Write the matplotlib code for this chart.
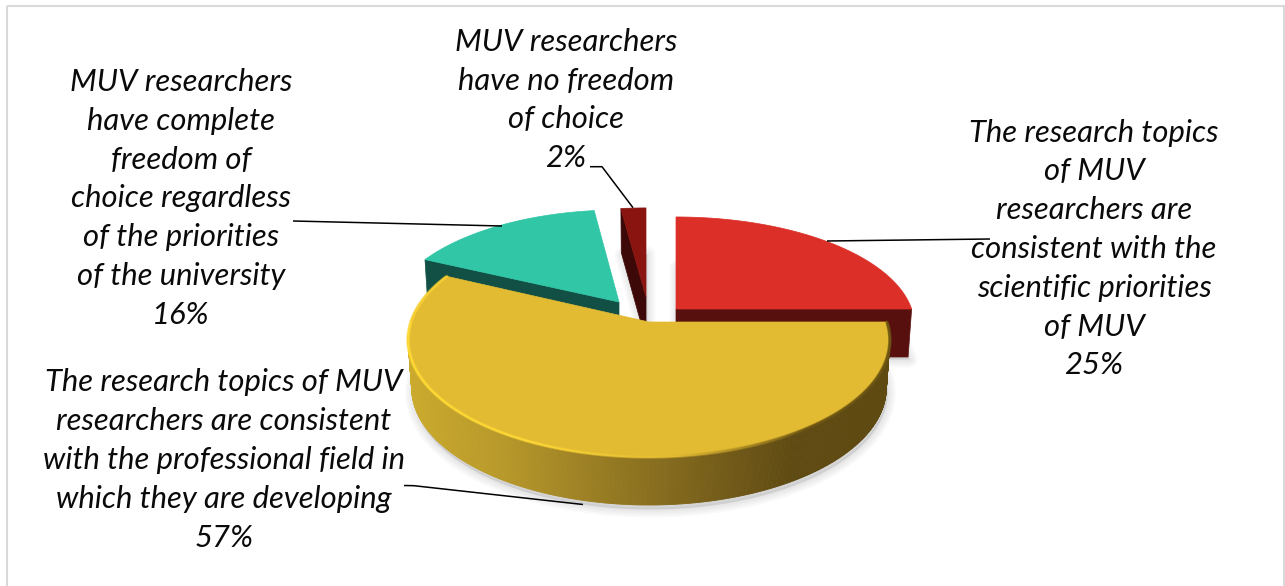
import numpy as np
import matplotlib
matplotlib.use("Agg")
import matplotlib.pyplot as plt
from matplotlib.patches import Polygon, Rectangle
from matplotlib.collections import PolyCollection, LineCollection
from matplotlib.colors import LinearSegmentedColormap, to_rgb

# ---- data (order = clockwise from 12 o'clock) ----
categories = [
    "The research topics\nof MUV\nresearchers are\nconsistent with the\nscientific priorities\nof MUV",
    "The research topics of MUV\nresearchers are consistent\nwith the professional field in\nwhich they are developing",
    "MUV researchers\nhave complete\nfreedom of\nchoice regardless\nof the priorities\nof the university",
    "MUV researchers\nhave no freedom\nof choice",
]
values = [25, 57, 16, 2]

top_colors = ["#db2f27", "#e3bb33", "#30c6a6", "#8a1510"]
side_colors = ["#58100e", "#b89a2a", "#125045", "#3c0808"]

# ---- pie geometry (screen pixels) ----
A, B, K = 238.0, 114.2, 0.154
apex = [(676, 309), (649, 322), (619, 302), (646, 297)]
sx = [0.99, 1.0, 0.96, 0.97]
sy = [0.93, 1.0, 0.93, 0.90]
depth = [48, 48, 46, 44]
bottom_shrink = 0.985

# ---- label placement ----
label_xy = [(1094, 249), (224, 460), (181, 198.5), (566, 100)]
FONT = "Lato"
FS = 22.3
LS = 1.47

fig = plt.figure(figsize=(12.85, 5.86), dpi=100, facecolor="white")
ax = fig.add_axes([0, 0, 1, 1])
ax.set_xlim(0, 1285)
ax.set_ylim(586, 0)
ax.axis("off")

# chart frame
ax.add_patch(Rectangle((7, 5.5), 1277, 600, fc="none", ec="#d9d9d9", lw=1.5, zorder=1))


def project(theta, i, bottom=False):
    x, y = np.cos(theta), np.sin(theta)
    w = 1 + K * y
    f = bottom_shrink if bottom else 1.0
    px = apex[i][0] + f * A * sx[i] * x / w
    py = apex[i][1] - B * sy[i] * y / w + (depth[i] if bottom else 0)
    return px, py


fractions = np.array(values, dtype=float) / sum(values)
edges = np.pi / 2 - 2 * np.pi * np.concatenate([[0], np.cumsum(fractions)])


def slice_outline(i, bottom=False):
    th = np.linspace(edges[i], edges[i + 1], 200)
    px, py = project(th, i, bottom)
    ax0, ay0 = apex[i][0], apex[i][1] + (depth[i] if bottom else 0)
    return np.column_stack([np.r_[ax0, px], np.r_[ay0, py]])


# soft floor shadows
for i in range(4):
    pts = slice_outline(i, True) + np.array([1.5, 4.5 if i == 1 else 2.5])
    for lw in (16, 12, 8, 4):
        ax.add_patch(Polygon(pts, closed=True, fc=(0, 0, 0, 0.022), ec=(0, 0, 0, 0.022),
                             lw=lw * 0.72, joinstyle="round", zorder=2))

z = 3
# back slices first: dark red, teal, red, then yellow in front
for i in (3, 2, 0):
    end = edges[i + 1] if i == 0 else edges[i]
    ex, ey = project(end, i)
    ebx, eby = project(end, i, True)
    ax.add_patch(Polygon([apex[i], (ex, ey), (ebx, eby), (apex[i][0], apex[i][1] + depth[i])],
                         closed=True, fc=side_colors[i], ec=side_colors[i], lw=0.5, zorder=z))
    ax.add_patch(Polygon(slice_outline(i), closed=True, fc=top_colors[i],
                         ec=top_colors[i], lw=0.5, zorder=z + 1))
    z += 2

# yellow outer wall with horizontal gradient
grad = LinearSegmentedColormap.from_list(
    "wall",
    [(0.0, "#cbaa2e"), (0.18, "#b99a2a"), (0.42, "#957922"), (0.65, "#745c19"),
     (0.80, "#5f4a12"), (1.0, "#5f4a12")],
)
i = 1
th = np.linspace(edges[1], edges[2], 500)
tx, ty = project(th, i)
bx, by = project(th, i, True)
quads = [[(tx[j], ty[j]), (tx[j + 1], ty[j + 1]), (bx[j + 1], by[j + 1]), (bx[j], by[j])]
         for j in range(len(th) - 1)]
midx = 0.5 * (tx[:-1] + tx[1:])
cols = grad(np.clip((midx - 408) / (890 - 408), 0, 1))
ax.add_collection(PolyCollection(quads, facecolors=cols, edgecolors=cols, linewidths=0.6, zorder=z))
z += 1
ax.add_patch(Polygon(slice_outline(1), closed=True, fc=top_colors[1], ec=top_colors[1],
                     lw=0.5, zorder=z))
z += 1

# bevel: bright rim front-left, dark rim front-right (wide faint pass, then narrow)
base = np.array(to_rgb(top_colors[1]))
bright = np.array(to_rgb("#ffd935"))
dark = np.array(to_rgb("#6d5512"))
segs, segc = [], []
for j in range(len(th) - 1):
    deg = np.degrees(th[j]) % 360   # 0 = right, 270 = front, 180 = left
    if 180 < deg <= 275:
        t = np.clip((275 - deg) / 30, 0, 1)
        c = base + (bright - base) * t
    elif deg > 275 or deg < 3:
        t = np.clip((deg - 275) / 30, 0, 1) if deg > 275 else 1.0
        c = base + (dark - base) * t
    else:
        c = base + (bright - base) * 0.7
    segs.append([(tx[j], ty[j]), (tx[j + 1], ty[j + 1])])
    segc.append(tuple(c))
ax.add_collection(LineCollection(segs, colors=segc, linewidths=2.6, alpha=0.25,
                                 capstyle="round", zorder=z))
ax.add_collection(LineCollection(segs, colors=segc, linewidths=1.2, alpha=0.8,
                                 capstyle="round", zorder=z))
z += 1

# leader lines
leaders = [
    [(827, 241), (990, 239)],
    [(404, 485.5), (414, 485.7), (583, 504.5)],
    [(293, 221), (502, 226)],
    [(590, 166.7), (602, 166.7), (633, 207.7)],
]
for pts in leaders:
    xs, ys = zip(*pts)
    ax.plot(xs, ys, color="black", lw=1.1, solid_capstyle="butt", zorder=z)

# labels
for cat, val, (x, y) in zip(categories, values, label_xy):
    ax.text(x, y, f"{cat}\n{val}%", ha="center", va="center", family=FONT, style="italic",
            fontsize=FS, color="#0a0a0a", linespacing=LS, multialignment="center", zorder=z + 1)

fig.savefig("out.png", dpi=100, facecolor="white")
